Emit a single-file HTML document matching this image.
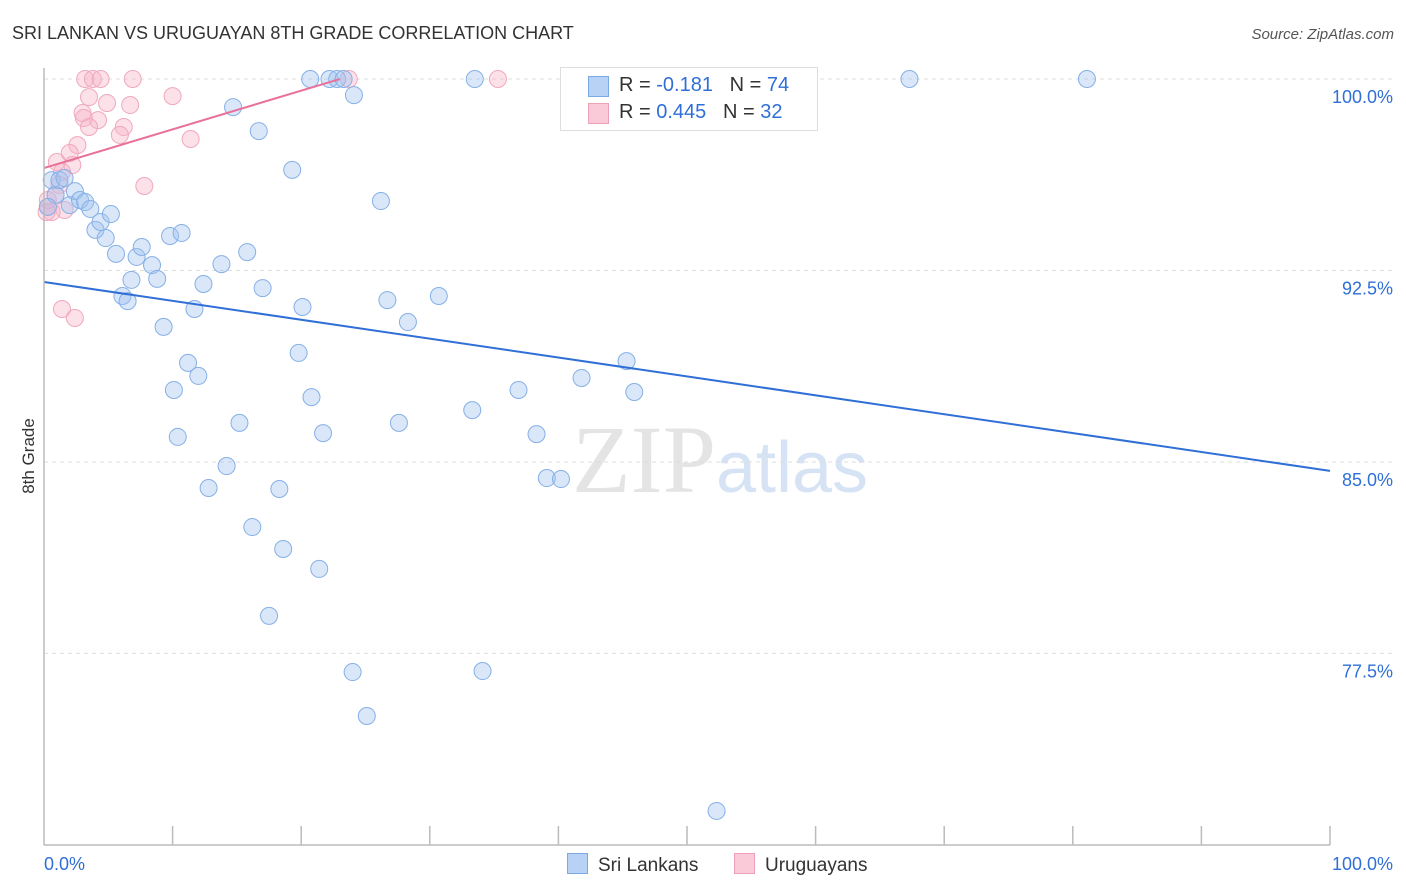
<!DOCTYPE html>
<html><head><meta charset="utf-8"><style>
body{margin:0;background:#fff;font-family:"Liberation Sans",sans-serif;}
#wrap{position:relative;width:1406px;height:892px;overflow:hidden}
</style></head><body>
<div id="wrap">
<svg id="svg" width="1406" height="892" xmlns="http://www.w3.org/2000/svg">
<text x="12" y="39" font-size="18" fill="#333">SRI LANKAN VS URUGUAYAN 8TH GRADE CORRELATION CHART</text>
<text x="1394" y="39" font-size="15" fill="#555" font-style="italic" text-anchor="end">Source: ZipAtlas.com</text>
<text x="34" y="456" font-size="17" fill="#333" transform="rotate(-90 34 456)" text-anchor="middle">8th Grade</text>
<text x="720" y="492" font-size="96" fill="#e4e4e4" text-anchor="middle" font-family="Liberation Serif,serif">ZIP<tspan fill="#d6e3f5" font-family="Liberation Sans,sans-serif" font-size="72">atlas</tspan></text>
<g id="grid"></g><g id="pts"></g><g id="lines"></g><g id="axes"></g>
</svg>
<div style="position:absolute;left:560px;top:67px;width:256px;height:62px;border:1px solid #ddd;background:#fff;font-size:20px;color:#333">
 <div style="position:absolute;left:27px;top:8px;width:19px;height:19px;background:#b8d2f5;border:1px solid #7aa9e6"></div>
 <div style="position:absolute;left:58px;top:6px">R = <span style="color:#2f6fd6">-0.181</span>&nbsp;&nbsp;&nbsp;N = <span style="color:#2f6fd6">74</span></div>
 <div style="position:absolute;left:27px;top:35px;width:19px;height:19px;background:#fbcad8;border:1px solid #eea0b8"></div>
 <div style="position:absolute;left:58px;top:33px">R = <span style="color:#2f6fd6">0.445</span>&nbsp;&nbsp;&nbsp;N = <span style="color:#2f6fd6">32</span></div>
</div>
<div style="position:absolute;left:567px;top:853px;font-size:19px;color:#333"><span style="display:inline-block;width:19px;height:19px;background:#b8d2f5;border:1px solid #7aa9e6;vertical-align:-3px;margin-right:10px"></span>Sri Lankans</div>
<div style="position:absolute;left:734px;top:853px;font-size:19px;color:#333"><span style="display:inline-block;width:19px;height:19px;background:#fbcad8;border:1px solid #eea0b8;vertical-align:-3px;margin-right:10px"></span>Uruguayans</div>
</div>
<script>
const yTicks=[100,92.5,85,77.5];
const yTickLabels=["100.0%","92.5%","85.0%","77.5%"];
const xTickLabels=["0.0%","100.0%"];
const blueX=[20.7,22.2,22.8,23.3,33.5,67.3,81.1,24.1,14.7,16.7,19.3,26.2,0.6,0.9,1.2,1.6,2.0,2.4,2.8,3.2,3.6,4.0,4.4,4.8,5.2,5.6,6.1,6.5,6.8,7.2,7.6,8.4,8.8,9.3,9.8,10.1,10.4,10.7,11.2,11.7,12.0,12.4,12.8,13.8,14.2,15.2,15.8,16.2,17.0,17.5,18.3,18.6,19.8,20.1,20.8,21.4,21.7,24.0,25.1,26.7,27.6,28.3,30.7,33.3,34.1,36.9,38.3,39.1,40.2,41.8,45.3,45.9,52.3,0.3];
const blueY=[100,100,100,100,100,100,100,99.37,98.9,97.96,96.44,95.22,96.04,95.46,96.04,96.12,95.06,95.61,95.26,95.18,94.91,94.09,94.4,93.77,94.71,93.15,91.5,91.3,92.13,93.03,93.42,92.71,92.17,90.29,93.85,87.82,85.98,93.97,88.88,90.99,88.37,91.97,83.98,92.75,84.84,86.53,93.22,82.45,91.81,78.97,83.94,81.59,89.27,91.07,87.54,80.81,86.13,76.77,75.05,91.34,86.53,90.48,91.5,87.03,76.81,87.82,86.09,84.37,84.33,88.29,88.95,87.74,71.33,94.99];
const pinkX=[3.2,3.8,4.4,6.9,23.7,35.3,3.5,4.9,3.0,6.7,4.2,3.1,3.5,6.2,5.9,10.0,11.4,2.6,2.0,2.2,1.0,1.4,7.8,1.2,1.6,0.3,0.6,0.2,1.4,2.4,0.3,0.9];
const pinkY=[100,100,100,100,100,100,99.29,99.06,98.67,98.98,98.39,98.47,98.12,98.12,97.81,99.33,97.65,97.41,97.1,96.63,96.75,96.36,95.81,95.85,94.87,94.99,94.79,94.79,90.99,90.64,95.26,95.46];
const blueTrend=[92.05,84.65]; // y at x=0 and x=100
const pinkTrend=[96.51,0.1517,23.0]; // intercept, slope, end x
const X=v=>44+v*12.86, Y=v=>79+(100-v)*25.53;
const NS="http://www.w3.org/2000/svg";
function mk(t,a,p){const e=document.createElementNS(NS,t);for(const k in a)e.setAttribute(k,a[k]);p.appendChild(e);return e;}
const grid=document.getElementById('grid'),axes=document.getElementById('axes'),pts=document.getElementById('pts'),lines=document.getElementById('lines');
yTicks.forEach((t,i)=>{
 const g=mk('line',{x1:44,x2:1394,y1:Y(t),y2:Y(t),stroke:'#ddd','stroke-dasharray':'4,4'},grid);
 
 
 const l=mk('text',{x:1393,y:Y(t)+24,'font-size':18,fill:'#2f6fd6','text-anchor':'end'},axes);
 l.textContent=yTickLabels[i];
 
 
});
mk('line',{x1:44,x2:44,y1:68,y2:845,stroke:'#bbb','stroke-width':1.5},axes);
mk('line',{x1:44,x2:1330,y1:845,y2:845,stroke:'#bbb','stroke-width':1.5},axes);
for(let i=1;i<=10;i++){const t=mk('line',{x1:X(i*10),x2:X(i*10),y1:826,y2:845,stroke:'#bbb','stroke-width':1.5},axes);
 
 }
let a=mk('text',{x:44,y:870,'font-size':18,fill:'#2f6fd6'},axes);a.textContent=xTickLabels[0];


a=mk('text',{x:1393,y:870,'font-size':18,fill:'#2f6fd6','text-anchor':'end'},axes);a.textContent=xTickLabels[1];


pinkX.forEach((x,i)=>{const c=mk('circle',{cx:X(x),cy:Y(pinkY[i]),r:8.5,fill:'rgba(248,180,200,0.4)',stroke:'#f0a8bf','stroke-width':1},pts);
 
 });
blueX.forEach((x,i)=>{const c=mk('circle',{cx:X(x),cy:Y(blueY[i]),r:8.5,fill:'rgba(160,196,240,0.4)',stroke:'#86b0e6','stroke-width':1},pts);
 
 });
let bl=mk('line',{x1:X(0),y1:Y(blueTrend[0]),x2:X(100),y2:Y(blueTrend[1]),stroke:'#2f6fd6','stroke-width':2},lines);


let pl=mk('line',{x1:X(0),y1:Y(pinkTrend[0]),x2:X(pinkTrend[2]),y2:Y(pinkTrend[0]+pinkTrend[1]*pinkTrend[2]),stroke:'#e8709a','stroke-width':2},lines);


</script>
</body></html>
